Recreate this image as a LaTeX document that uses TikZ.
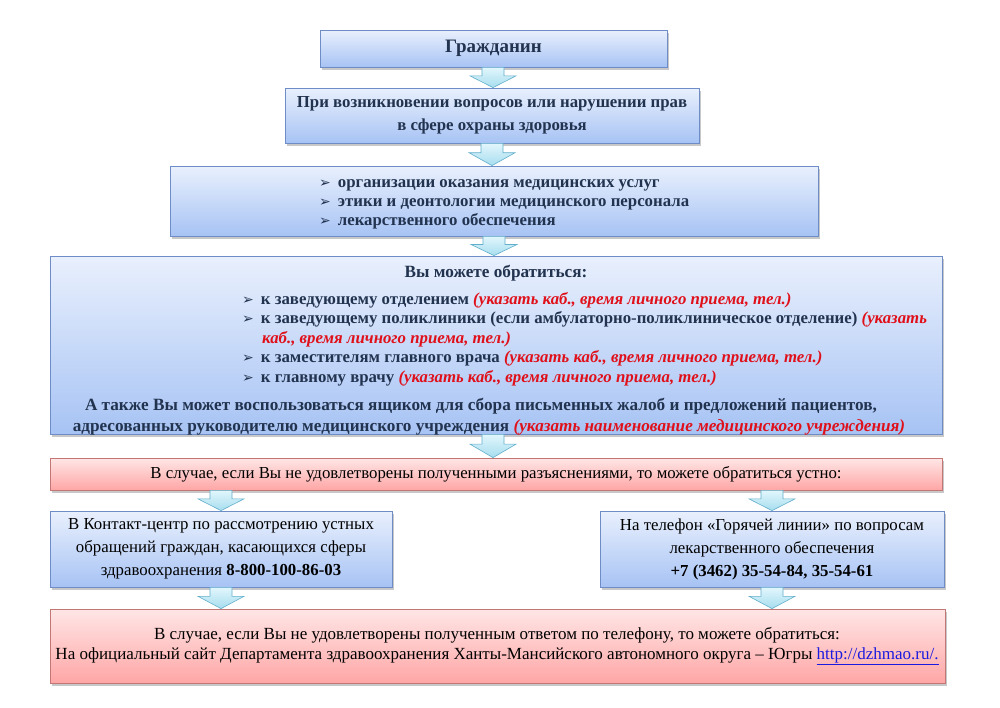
\documentclass[tikz,border=0pt]{standalone}
\usepackage{fontspec}
\setmainfont{Liberation Serif}
\newfontfamily\cond{Liberation Serif}
\newfontfamily\sym{DejaVu Sans}
\usetikzlibrary{calc,shadows}
\definecolor{txt}{HTML}{22334F}
\definecolor{redtxt}{HTML}{E0101A}
\definecolor{bluetop}{HTML}{E9F0FD}
\definecolor{bluebot}{HTML}{A7C3F4}
\definecolor{boxline}{HTML}{6E8DC6}
\definecolor{redtop}{HTML}{FFE6E6}
\definecolor{redbot}{HTML}{FFA6A6}
\definecolor{redline}{HTML}{C27676}
\definecolor{arrtop}{HTML}{E2F6FC}
\definecolor{arrbot}{HTML}{A6DDEF}
\definecolor{arrline}{HTML}{62AFCB}
\definecolor{linkblue}{HTML}{1A1AE0}
\newcommand\bul{{\sym\fontsize{14}{14}\selectfont ➢}}
\newcommand\rd[1]{\textcolor{redtxt}{\textit{#1}}}
\newcommand\barrow[2]{%
  \path[arrsty] let \p1=#1, \p2=#2, \p3=($#1!0.42!#2$) in
    (\x1-11pt,\y1) -- (\x1+11pt,\y1) -- (\x1+11pt,\y3) -- (\x1+23pt,\y3)
    -- (\x1,\y2) -- (\x1-23pt,\y3) -- (\x1-11pt,\y3) -- cycle;}
\tikzset{
  bluebox/.style={draw=boxline, line width=0.8pt, top color=bluetop, bottom color=bluebot,
    drop shadow={shadow xshift=2pt, shadow yshift=-3pt, opacity=0.3, fill=black!70}, inner sep=0pt},
  redbox/.style={draw=redline, line width=0.8pt, top color=redtop, bottom color=redbot,
    drop shadow={shadow xshift=2pt, shadow yshift=-3pt, opacity=0.3, fill=black!70}, inner sep=0pt},
  arrsty/.style={draw=arrline, line width=0.6pt, top color=arrtop, bottom color=arrbot},
  btxt/.style={text=txt, font=\fontsize{16.8}{23}\selectfont\bfseries, align=center, inner sep=0pt},
  ltxt/.style={text=txt, font=\fontsize{16.8}{19.5}\selectfont\bfseries, anchor=base west, inner sep=0pt},
  ctxt/.style={text=txt, font=\fontsize{17.2}{19.5}\selectfont\bfseries, anchor=base, inner sep=0pt},
  ntxt/.style={text=black, font=\cond\fontsize{16.8}{23}\selectfont, align=center, inner sep=0pt},
}
\begin{document}
\begin{tikzpicture}[x=1pt,y=-1pt]
\useasboundingbox[fill=white] (0,0) rectangle (1000,707);
% boxes
\node[bluebox, minimum width=347pt, minimum height=37pt] (b1) at (493.5,48.5) {};
\node[bluebox, minimum width=414pt, minimum height=55pt] (b2) at (492,115.5) {};
\node[bluebox, minimum width=648pt, minimum height=70pt] (b3) at (494,201) {};
\node[bluebox, minimum width=892pt, minimum height=178pt] (b4) at (496,345) {};
\node[redbox, minimum width=892pt, minimum height=32pt] (r1) at (496,474) {};
\node[bluebox, minimum width=342pt, minimum height=76pt] (lb) at (221,549) {};
\node[bluebox, minimum width=344pt, minimum height=76pt] (rb) at (772,549) {};
\node[redbox, minimum width=895pt, minimum height=74pt] (bot) at (497.5,646) {};
% texts
\node[btxt, font=\fontsize{19}{23}\selectfont\bfseries] (t1) at (b1) {Гражданин};
\node[btxt] (t2) at (b2) {При возникновении вопросов или нарушении прав\\в сфере охраны здоровья};
\node[ltxt] (t3a) at (319,187) {\bul\hspace{7pt}организации оказания медицинских услуг};
\node[ltxt] (t3b) at (319,206) {\bul\hspace{7pt}этики и деонтологии медицинского персонала};
\node[ltxt] (t3c) at (319,225) {\bul\hspace{7pt}лекарственного обеспечения};
\node[ctxt] (t4) at (496,277) {Вы можете обратиться:};
\node[ltxt] (t4a) at (242,304) {\bul\hspace{7pt}к заведующему отделением \rd{(указать каб., время личного приема, тел.)}};
\node[ltxt] (t4b) at (242,323) {\bul\hspace{7pt}к заведующему поликлиники (если амбулаторно-поликлиническое отделение) \rd{(указать}};
\node[ltxt] (t4c) at (262,343) {\rd{каб., время личного приема, тел.)}};
\node[ltxt] (t4d) at (242,362) {\bul\hspace{7pt}к заместителям главного врача \rd{(указать каб., время личного приема, тел.)}};
\node[ltxt] (t4e) at (242,382) {\bul\hspace{7pt}к главному врачу \rd{(указать каб., время личного приема, тел.)}};
\begin{scope}
\clip (b4.north west) rectangle (b4.south east);
\node[ctxt] (t4f) at (481,410) {А также Вы может воспользоваться ящиком для сбора письменных жалоб и предложений пациентов,};
\node[ctxt] (t4g) at (489,431) {адресованных руководителю медицинского учреждения \rd{(указать наименование медицинского учреждения)}};
\end{scope}
\node[ntxt] (t5) at (r1) {В случае, если Вы не удовлетворены полученными разъяснениями, то можете обратиться устно:};
\node[ntxt] (t6) at (lb) {В Контакт-центр по рассмотрению устных\\обращений граждан, касающихся сферы\\здравоохранения \textbf{8-800-100-86-03}};
\node[ntxt] (t7) at (rb) {На телефон «Горячей линии» по вопросам\\лекарственного обеспечения\\\textbf{+7 (3462) 35-54-84, 35-54-61}};
\node[ntxt, font=\cond\fontsize{17}{20}\selectfont] (t8) at (497,646) {В случае, если Вы не удовлетворены полученным ответом по телефону, то можете обратиться:\\На официальный сайт Департамента здравоохранения Ханты-Мансийского автономного округа – Югры \textcolor{linkblue}{\underline{http://dzhmao.ru/.}}};
% arrows
\coordinate (a1) at (lb.north |- r1.south);
\coordinate (a2) at (rb.north |- r1.south);
\coordinate (a3) at (lb.south |- bot.north);
\coordinate (a4) at (rb.south |- bot.north);
\coordinate (a5) at (b1.south -| 493,0);
\coordinate (a6) at (b4.south -| 493,0);
\coordinate (a7) at (r1.north -| 493,0);
\barrow{(a5)}{(b2.north)}
\barrow{(b2.south)}{(b3.north)}
\barrow{(b3.south)}{(b4.north)}
\barrow{(a6)}{(a7)}
\barrow{(a1)}{(lb.north)}
\barrow{(a2)}{(rb.north)}
\barrow{(lb.south)}{(a3)}
\barrow{(rb.south)}{(a4)}
\end{tikzpicture}
\end{document}
